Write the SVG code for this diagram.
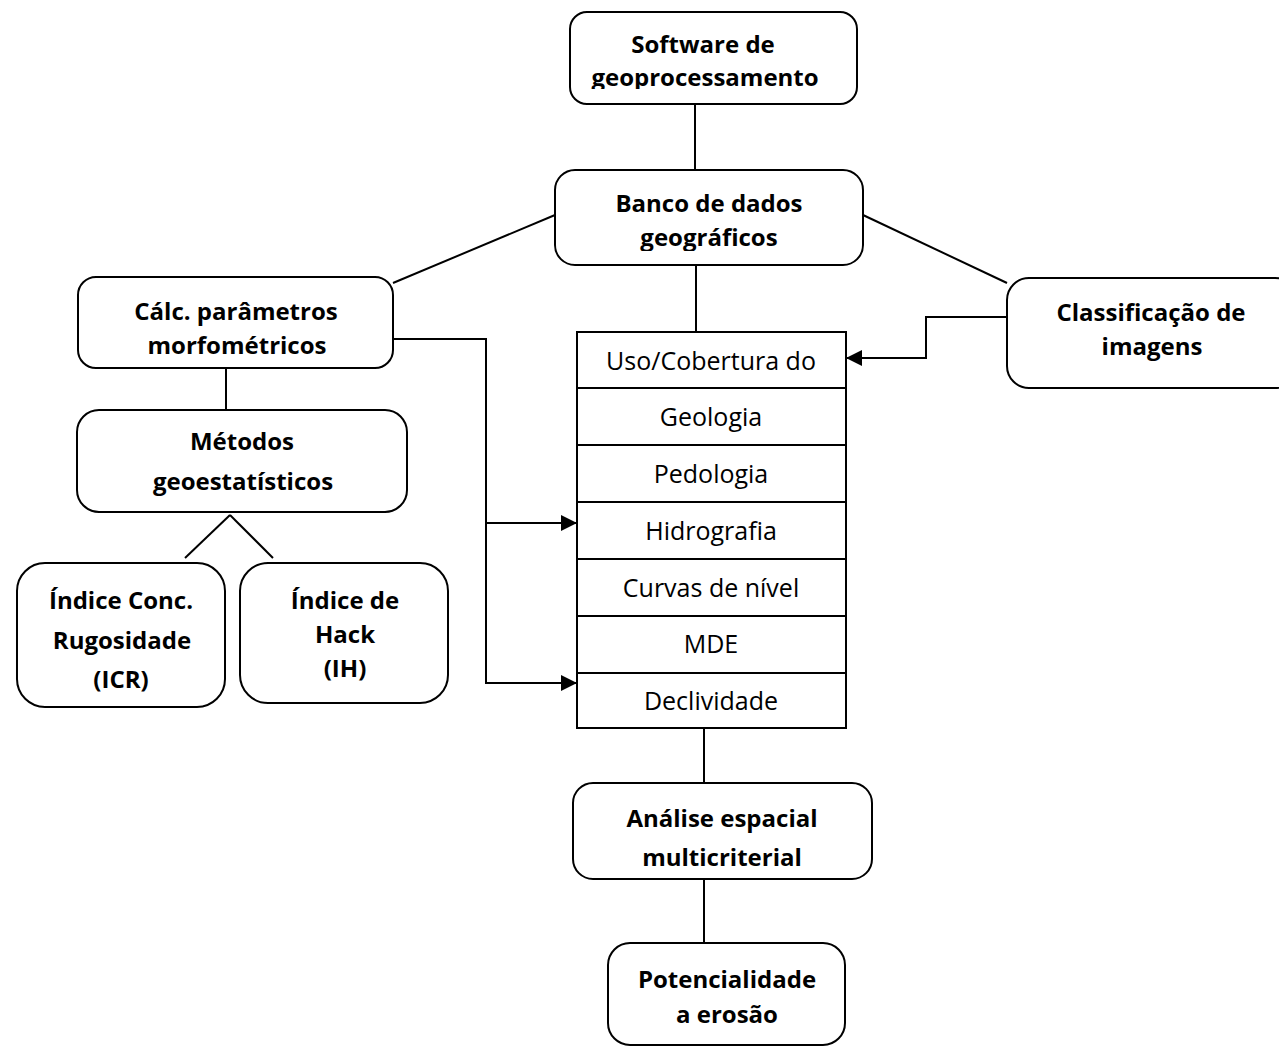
<svg xmlns="http://www.w3.org/2000/svg" width="1279" height="1048" viewBox="0 0 1279 1048">
<style>
.box{fill:#fff;stroke:#000;stroke-width:2}
.b{font-family:"Open Sans","Liberation Sans",sans-serif;font-weight:bold;font-size:24px;text-anchor:middle;fill:#000}
.r{font-family:"Open Sans","Liberation Sans",sans-serif;font-size:25px;text-anchor:middle;fill:#000}
.ln{fill:none;stroke:#000;stroke-width:2}
</style>
<defs>
<marker id="ah" markerUnits="userSpaceOnUse" markerWidth="16" markerHeight="16" refX="16" refY="8" orient="auto">
<path d="M0,0 L16,8 L0,16 z" fill="#000"/>
</marker>
<clipPath id="c1"><rect x="560" y="0" width="300" height="89"/></clipPath>
<clipPath id="c2"><rect x="550" y="160" width="320" height="91"/></clipPath>
</defs>
<rect width="1279" height="1048" fill="#fff"/>
<g id="connectors">
<line class="ln" x1="695" y1="104" x2="695" y2="170"/>
<line class="ln" x1="696" y1="265" x2="696" y2="332"/>
<line class="ln" x1="555" y1="215" x2="393" y2="283"/>
<line class="ln" x1="863" y1="215" x2="1007" y2="283"/>
<line class="ln" x1="226" y1="368" x2="226" y2="410"/>
<line class="ln" x1="230" y1="515" x2="185" y2="558"/>
<line class="ln" x1="230" y1="515" x2="273" y2="558"/>
<path class="ln" d="M393,339 H486 V683 H577" marker-end="url(#ah)"/>
<path class="ln" d="M486,523 H577" marker-end="url(#ah)"/>
<path class="ln" d="M1007,317 H926 V358 H846" marker-end="url(#ah)"/>
<line class="ln" x1="704" y1="728" x2="704" y2="783"/>
<line class="ln" x1="704" y1="879" x2="704" y2="943"/>
</g>
<g id="software">
<rect class="box" x="570" y="12" width="287" height="92" rx="17"/>
<text class="b" x="703" y="53">Software de</text>
<text class="b" x="705" y="86" clip-path="url(#c1)">geoprocessamento</text>
</g>
<g id="banco">
<rect class="box" x="555" y="170" width="308" height="95" rx="20"/>
<text class="b" x="709" y="212">Banco de dados</text>
<text class="b" x="709" y="246" clip-path="url(#c2)">geográficos</text>
</g>
<g id="calc">
<rect class="box" x="78" y="277" width="315" height="91" rx="18"/>
<text class="b" x="236" y="320">Cálc. parâmetros</text>
<text class="b" x="237" y="354">morfométricos</text>
</g>
<g id="classificacao">
<rect class="box" x="1007" y="278" width="290" height="110" rx="22"/>
<text class="b" x="1151" y="321">Classificação de</text>
<text class="b" x="1152" y="355">imagens</text>
</g>
<g id="tabela">
<rect class="box" x="577" y="332" width="269" height="396"/>
<path class="ln" d="M577,388 H846 M577,445 H846 M577,502 H846 M577,559 H846 M577,616 H846 M577,673 H846"/>
<text class="r" x="711" y="370">Uso/Cobertura do</text>
<text class="r" x="711" y="426">Geologia</text>
<text class="r" x="711" y="483">Pedologia</text>
<text class="r" x="711" y="540">Hidrografia</text>
<text class="r" x="711" y="597">Curvas de nível</text>
<text class="r" x="711" y="653">MDE</text>
<text class="r" x="711" y="710">Declividade</text>
</g>
<g id="metodos">
<rect class="box" x="77" y="410" width="330" height="102" rx="22"/>
<text class="b" x="242" y="450">Métodos</text>
<text class="b" x="243" y="490">geoestatísticos</text>
</g>
<g id="icr">
<rect class="box" x="17" y="563" width="208" height="144" rx="28"/>
<text class="b" x="121" y="609">Índice Conc.</text>
<text class="b" x="122" y="649">Rugosidade</text>
<text class="b" x="121" y="688">(ICR)</text>
</g>
<g id="ih">
<rect class="box" x="240" y="563" width="208" height="140" rx="28"/>
<text class="b" x="345" y="609">Índice de</text>
<text class="b" x="345" y="643">Hack</text>
<text class="b" x="345" y="677">(IH)</text>
</g>
<g id="analise">
<rect class="box" x="573" y="783" width="299" height="96" rx="20"/>
<text class="b" x="722" y="827">Análise espacial</text>
<text class="b" x="722" y="866">multicriterial</text>
</g>
<g id="potencialidade">
<rect class="box" x="608" y="943" width="237" height="102" rx="22"/>
<text class="b" x="727" y="988">Potencialidade</text>
<text class="b" x="727" y="1023">a erosão</text>
</g>
</svg>
